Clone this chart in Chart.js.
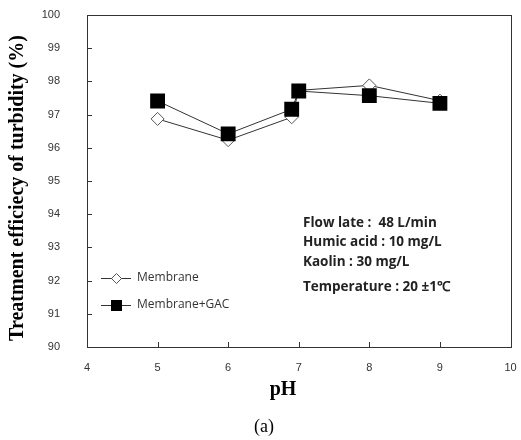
<!DOCTYPE html>
<html>
<head>
<meta charset="utf-8">
<script src="https://cdn.jsdelivr.net/npm/chart.js@4.4.1/dist/chart.umd.min.js"></script>
<style>
  html, body { margin: 0; padding: 0; background: #fff; }
  #wrap { width: 521px; height: 440px; }
</style>
</head>
<body>
<div id="wrap"><canvas id="phChart" width="521" height="440"></canvas></div>
<script>
// data
const phMembrane = [5, 6, 6.9, 7, 8, 9];
const effMembrane = [96.87, 96.23, 96.92, 97.73, 97.88, 97.42];
const phGac = [5, 6, 6.9, 7, 8, 9];
const effGac = [97.41, 96.42, 97.16, 97.71, 97.57, 97.34];
const xTicks = [4, 5, 6, 7, 8, 9, 10];
const yTicks = [90, 91, 92, 93, 94, 95, 96, 97, 98, 99, 100];
const notes = ["Flow late :  48 L/min", "Humic acid : 10 mg/L", "Kaolin : 30 mg/L", "Temperature : 20 \u00b11\u2103"];

function toPoints(xs, ys) {
  return xs.map((x, i) => ({ x: x, y: ys[i] }));
}

// kill the extra margins chart.js reserves for tick labels
function noPad(s) {
  s.paddingTop = 0;
  s.paddingBottom = 0;
  s.paddingLeft = 0;
  s.paddingRight = 0;
}

// frame, inner tick marks, legend, notes and titles
const extras = {
  id: "extras",
  afterDraw(chart) {
    const ctx = chart.ctx;
    const xs = chart.scales.x, ys = chart.scales.y;
    const area = chart.chartArea;
    ctx.save();
    ctx.strokeStyle = "#333";
    ctx.lineWidth = 1;
    ctx.strokeRect(Math.round(area.left) + 0.5, Math.round(area.top) + 0.5,
      Math.round(area.right - area.left), Math.round(area.bottom - area.top));
    ctx.beginPath();
    yTicks.forEach(v => {
      const py = Math.round(ys.getPixelForValue(v)) + 0.5;
      ctx.moveTo(area.left, py);
      ctx.lineTo(area.left + 5, py);
    });
    xTicks.forEach(v => {
      const px = Math.round(xs.getPixelForValue(v)) + 0.5;
      ctx.moveTo(px, area.bottom);
      ctx.lineTo(px, area.bottom - 5);
    });
    ctx.stroke();

    // legend
    const legendRows = [
      { label: "Membrane", y: 278, style: "diamond", w: 67 },
      { label: "Membrane+GAC", y: 305, style: "square", w: 99 }
    ];
    legendRows.forEach(r => {
      ctx.strokeStyle = "#333";
      ctx.lineWidth = 1;
      ctx.beginPath();
      ctx.moveTo(101, r.y + 0.5);
      ctx.lineTo(131, r.y + 0.5);
      ctx.stroke();
      if (r.style === "diamond") {
        ctx.fillStyle = "#fff";
        ctx.strokeStyle = "#555";
        ctx.beginPath();
        ctx.moveTo(111.5, r.y + 0.5);
        ctx.lineTo(116.5, r.y - 4.5);
        ctx.lineTo(121.5, r.y + 0.5);
        ctx.lineTo(116.5, r.y + 5.5);
        ctx.closePath();
        ctx.fill();
        ctx.stroke();
      } else {
        ctx.fillStyle = "#000";
        ctx.fillRect(111, r.y - 5, 11, 11);
      }
      ctx.fillStyle = "#333";
      ctx.font = "12px 'Open Sans', 'Liberation Sans', sans-serif";
      ctx.textAlign = "left";
      ctx.textBaseline = "middle";
      ctx.fillText(r.label, 137, r.y, r.w);
    });

    // condition notes
    const noteY = [223, 242, 262, 287];
    const noteW = [143, 146, 115, 164];
    ctx.fillStyle = "#222";
    ctx.font = "bold 13.5px 'Open Sans', 'Liberation Sans', sans-serif";
    ctx.textAlign = "left";
    ctx.textBaseline = "middle";
    notes.forEach((t, i) => ctx.fillText(t, 303, noteY[i], noteW[i]));

    // axis titles
    ctx.fillStyle = "#000";
    ctx.font = "bold 20px 'Liberation Serif', 'Times New Roman', serif";
    ctx.textAlign = "center";
    ctx.fillText("pH", 283, 390);
    ctx.font = "18px 'Liberation Serif', 'Times New Roman', serif";
    ctx.fillText("(a)", 264, 427);

    ctx.translate(18, 188);
    ctx.rotate(-Math.PI / 2);
    ctx.font = "bold 20px 'Liberation Serif', 'Times New Roman', serif";
    ctx.fillText("Treatment efficiecy of turbidity (%)", 0, 0, 318);
    ctx.restore();
  }
};

new Chart(document.getElementById("phChart"), {
  type: "scatter",
  data: {
    datasets: [
      {
        label: "Membrane+GAC",
        data: toPoints(phGac, effGac),
        showLine: true,
        borderColor: "#333",
        borderWidth: 1,
        backgroundColor: "#000",
        pointStyle: "rect",
        pointRadius: 10.5,
        pointBorderColor: "#000",
        pointBorderWidth: 0,
        order: 1
      },
      {
        label: "Membrane",
        data: toPoints(phMembrane, effMembrane),
        showLine: true,
        borderColor: "#333",
        borderWidth: 1,
        backgroundColor: "#fff",
        pointStyle: "rectRot",
        pointRadius: 6.5,
        pointBorderColor: "#555",
        pointBorderWidth: 1,
        order: 2
      }
    ]
  },
  options: {
    responsive: false,
    animation: false,
    layout: { padding: { top: 15, right: 8, left: 0, bottom: 0 } },
    plugins: {
      legend: { display: false },
      tooltip: { enabled: false }
    },
    scales: {
      x: {
        type: "linear",
        min: 4,
        max: 10,
        afterBuildTicks: s => { s.ticks = xTicks.map(v => ({ value: v })); },
        afterFit: s => { s.height = 93; noPad(s); },
        grid: { display: false, drawTicks: false },
        border: { display: true, color: "#333", width: 1 },
        ticks: {
          padding: 14,
          color: "#333",
          font: { family: "'Liberation Sans', sans-serif", size: 11 }
        }
      },
      y: {
        min: 90,
        max: 100,
        afterBuildTicks: s => { s.ticks = yTicks.map(v => ({ value: v })); },
        afterFit: s => { s.width = 87; noPad(s); },
        grid: { display: false, drawTicks: false },
        border: { display: true, color: "#333", width: 1 },
        ticks: {
          padding: 27,
          color: "#333",
          font: { family: "'Liberation Sans', sans-serif", size: 11 }
        }
      }
    }
  },
  plugins: [extras]
});
</script>
</body>
</html>
